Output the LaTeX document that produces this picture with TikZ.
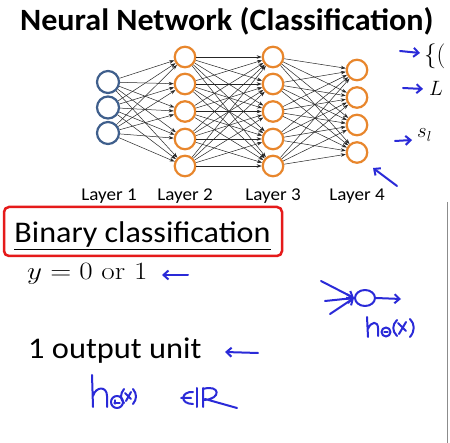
\documentclass[tikz,border=0pt]{standalone}
\usepackage{fontspec}
\newfontfamily\calibri{Carlito}
\usetikzlibrary{arrows.meta,shapes.geometric}
\definecolor{inblue}{HTML}{3F5F8C}
\definecolor{unitorange}{HTML}{E8862C}
\definecolor{inkblue}{HTML}{2A2AD8}
\definecolor{boxred}{HTML}{E51A1A}
\begin{document}
\begin{tikzpicture}[x=1pt,y=-1pt,
  neuron/.style={circle,draw,line width=2.2pt,inner sep=0pt,fill=white},
  inunit/.style={neuron,draw=inblue,minimum size=22pt},
  hidunit/.style={neuron,draw=unitorange,minimum size=20.5pt},
  wire/.style={line width=0.5pt,draw=black!85,-{Stealth[length=5pt,width=3.5pt]}},
  ink/.style={draw=inkblue,line width=2pt,line cap=round,line join=round},
  inkarrow/.style={ink,-{Straight Barb[length=5pt,width=9pt]}},
  lbl/.style={font=\calibri\fontsize{18}{18}\selectfont,anchor=base,xscale=1.06},
]
\useasboundingbox (0,0) rectangle (450,443);
\clip (0,0) rectangle (450,443);
\fill[white] (0,0) rectangle (450,443);

% heading
\node[anchor=base west,inner sep=0pt,xscale=1.035,font=\calibri\bfseries\fontsize{31}{31}\selectfont]
  (title) at (20,31) {Neural Network (Classification)};

% units
\foreach \y [count=\i] in {82,107.5,133}
  \node[inunit] (a\i) at (108,\y) {};
\foreach \y [count=\i] in {57,84,111.5,139,166}{
  \node[hidunit] (b\i) at (185,\y) {};
  \node[hidunit] (c\i) at (273,\y) {};
}
\foreach \y [count=\i] in {70,97.5,125,152.5}
  \node[hidunit] (d\i) at (357,\y) {};

% weights
\foreach \i in {1,2,3}
  \foreach \j in {1,...,5}
    \draw[wire] (a\i) -- (b\j);
\foreach \i in {1,...,5}
  \foreach \j in {1,...,5}
    \draw[wire] (b\i) -- (c\j);
\foreach \i in {1,...,5}
  \foreach \j in {1,...,4}
    \draw[wire] (c\i) -- (d\j);

% layer names
\node[lbl] (lab1) at (109,201) {Layer 1};
\node[lbl] (lab2) at (185,201) {Layer 2};
\node[lbl] (lab3) at (273,201) {Layer 3};
\node[lbl] (lab4) at (357,201) {Layer 4};

% notation on the right edge
\node[anchor=base west,inner sep=0pt,font=\fontsize{23}{23}\selectfont] (setx) at (424,63) {$\{($};
\node[anchor=base west,inner sep=0pt,font=\fontsize{21}{21}\selectfont] (bigL) at (429,96) {$L$};
\node[anchor=base west,inner sep=0pt,font=\fontsize{21}{21}\selectfont] (sl) at (417,138) {$s_l$};
\coordinate (p1s) at (400,51);  \coordinate (p1e) at (420,53);
\coordinate (p2s) at (403,88);  \coordinate (p2e) at (423,89);
\coordinate (p3s) at (395,141); \coordinate (p3e) at (412,140);
\draw[inkarrow] (p1s) -- (p1e);
\draw[inkarrow] (p2s) -- (p2e);
\draw[inkarrow] (p3s) -- (p3e);
\coordinate (outtail) at (397,186);
\coordinate (outtip) at (373,168);
\draw[inkarrow] (outtail) -- (outtip);

% binary classification heading
\node[draw=boxred,line width=2.5pt,rounded corners=5pt,minimum width=278pt,minimum height=49pt,inner sep=0pt]
  (binbox) at (143,231.5) {};
\node[anchor=base,inner sep=0pt,xscale=1.07,font=\calibri\fontsize{30}{30}\selectfont]
  (bintext) at (142.5,243) {\underline{Binary classification}};

\node[anchor=base west,inner sep=0pt,xscale=1.17,font=\fontsize{25}{25}\selectfont]
  (ylabel) at (27,280) {$y=0\ \mathrm{or}\ 1$};
\coordinate (ya) at (188,275); \coordinate (yb) at (162,275);
\draw[inkarrow] (ya) -- (yb);

\node[anchor=base west,inner sep=0pt,xscale=1.08,font=\calibri\fontsize{30}{30}\selectfont]
  (oneout) at (28,359) {1 output unit};
\coordinate (oa) at (258,353); \coordinate (ob) at (225,352);
\draw[inkarrow] (oa) -- (ob);

% hand-drawn single output neuron
\node[ink,ellipse,minimum width=20pt,minimum height=16pt,inner sep=0pt] (hn) at (365,298) {};
\coordinate (in1) at (321,281);
\coordinate (in2) at (325,301);
\coordinate (in3) at (330,314);
\coordinate (hout) at (401,299);
\draw[inkarrow] (in1) -- (hn.west);
\draw[inkarrow] (in2) -- (hn.west);
\draw[inkarrow] (in3) -- (hn.west);
\draw[inkarrow] (hn.east) -- (hout);

% h_Theta(x) under the neuron
\draw[ink] (367,317) -- (368,337)
           (368,329) .. controls (371,321) and (378,321) .. (378,328) -- (378,336);
\draw[ink] (386,332) circle[radius=4.5pt];
\draw[ink,line width=1.3pt] (384,332) -- (388,332);
\draw[ink] (397,320) .. controls (392,325) and (392,331) .. (397,336);
\draw[ink] (398,323) -- (406,331) (406,322) -- (399,334);
\draw[ink] (410,319) .. controls (415,324) and (415,331) .. (410,337);

% h_Theta(x) in R
\draw[ink] (92,375) -- (93,407)
           (93,396) .. controls (96,386) and (107,386) .. (107,396) -- (107,407);
\draw[ink] (117,402) circle[radius=6pt];
\draw[ink,line width=1.3pt] (114,403) -- (120,403) (115,400) -- (115,404);
\draw[ink] (124,389) .. controls (120,394) and (120,399) .. (124,403);
\draw[ink] (125,393) -- (131,399) (131,392) -- (126,401);
\draw[ink] (133,389) .. controls (137,394) and (137,399) .. (133,404);
\draw[ink] (193,392) .. controls (181,391) and (179,404) .. (193,404)
           (181,398) -- (191,398);
\draw[ink] (197,388) -- (197,407);
\draw[ink] (203,388) -- (203,407)
           (203,389) .. controls (220,384) and (222,399) .. (204,400)
           (205,399) -- (237,408);

% frame edge at the right
\draw[black!45,line width=0.8pt] (447,202) -- (447,443);
\end{tikzpicture}
\end{document}
